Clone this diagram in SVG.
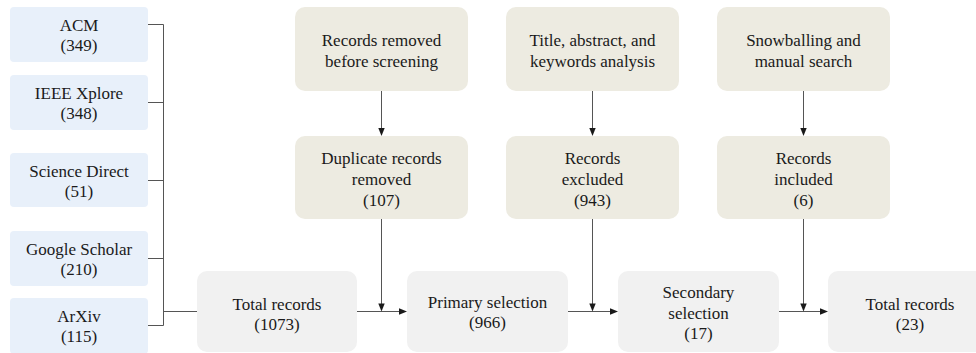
<svg xmlns="http://www.w3.org/2000/svg" width="976" height="353" viewBox="0 0 976 353">
  <style>
    .lbl { font-family: 'Liberation Serif', serif; font-size: 17px; fill: #1a1a1a; text-anchor: middle; }
    .src { fill: #e8f0fa; }
    .step { fill: #edebe1; }
    .flow { fill: #f1f1f1; }
    .line { stroke: #555; stroke-width: 1; fill: none; }
    .head { fill: #1a1a1a; }
  </style>
  <defs>
    <path id="down" d="M-3.2,-8 L3.2,-8 L0,0 Z"/>
    <path id="right" d="M-8,-3.2 L0,0 L-8,3.2 Z"/>
  </defs>
  <rect width="976" height="353" fill="#ffffff"/>
  <g id="acm">
    <rect class="src" x="10" y="7" width="138" height="55" rx="4"/>
    <text class="lbl" font-family="serif" x="79" y="31">ACM<tspan x="79" dy="20">(349)</tspan></text>
  </g>
  <g id="ieee">
    <rect class="src" x="10" y="75" width="138" height="55" rx="4"/>
    <text class="lbl" font-family="serif" x="79" y="99">IEEE Xplore<tspan x="79" dy="20">(348)</tspan></text>
  </g>
  <g id="sciencedirect">
    <rect class="src" x="10" y="153" width="138" height="54" rx="4"/>
    <text class="lbl" font-family="serif" x="79" y="177">Science Direct<tspan x="79" dy="20">(51)</tspan></text>
  </g>
  <g id="scholar">
    <rect class="src" x="10" y="231" width="138" height="55" rx="4"/>
    <text class="lbl" font-family="serif" x="79" y="255">Google Scholar<tspan x="79" dy="20">(210)</tspan></text>
  </g>
  <g id="arxiv">
    <rect class="src" x="10" y="298" width="138" height="56" rx="4"/>
    <text class="lbl" font-family="serif" x="79" y="322">ArXiv<tspan x="79" dy="20">(115)</tspan></text>
  </g>
  <g id="removed-before">
    <rect class="step" x="295" y="7" width="173" height="84" rx="10"/>
    <text class="lbl" font-family="serif" x="381.5" y="46">Records removed<tspan x="381.5" dy="21">before screening</tspan></text>
  </g>
  <g id="title-abstract">
    <rect class="step" x="506" y="7" width="173" height="84" rx="10"/>
    <text class="lbl" font-family="serif" x="592.5" y="46">Title, abstract, and<tspan x="592.5" dy="21">keywords analysis</tspan></text>
  </g>
  <g id="snowballing">
    <rect class="step" x="717" y="7" width="173" height="84" rx="10"/>
    <text class="lbl" font-family="serif" x="803.5" y="46">Snowballing and<tspan x="803.5" dy="21">manual search</tspan></text>
  </g>
  <g id="duplicates">
    <rect class="step" x="295" y="136" width="173" height="83" rx="10"/>
    <text class="lbl" font-family="serif" x="381.5" y="164">Duplicate records<tspan x="381.5" dy="21">removed</tspan><tspan x="381.5" dy="21">(107)</tspan></text>
  </g>
  <g id="excluded">
    <rect class="step" x="506" y="136" width="173" height="83" rx="10"/>
    <text class="lbl" font-family="serif" x="592.5" y="164">Records<tspan x="592.5" dy="21">excluded</tspan><tspan x="592.5" dy="21">(943)</tspan></text>
  </g>
  <g id="included">
    <rect class="step" x="717" y="136" width="173" height="83" rx="10"/>
    <text class="lbl" font-family="serif" x="803.5" y="164">Records<tspan x="803.5" dy="21">included</tspan><tspan x="803.5" dy="21">(6)</tspan></text>
  </g>
  <g id="total-initial">
    <rect class="flow" x="197" y="271" width="160" height="81" rx="10"/>
    <text class="lbl" font-family="serif" x="277" y="310">Total records<tspan x="277" dy="20">(1073)</tspan></text>
  </g>
  <g id="primary">
    <rect class="flow" x="407" y="271" width="161" height="81" rx="10"/>
    <text class="lbl" font-family="serif" x="487.5" y="308">Primary selection<tspan x="487.5" dy="20">(966)</tspan></text>
  </g>
  <g id="secondary">
    <rect class="flow" x="618" y="271" width="161" height="81" rx="10"/>
    <text class="lbl" font-family="serif" x="698.5" y="298">Secondary<tspan x="698.5" dy="20.5">selection</tspan><tspan x="698.5" dy="20.5">(17)</tspan></text>
  </g>
  <g id="total-final">
    <rect class="flow" x="828" y="271" width="164" height="81" rx="10"/>
    <text class="lbl" font-family="serif" x="910" y="310">Total records<tspan x="910" dy="20">(23)</tspan></text>
  </g>
  <g id="connectors">
    <path class="line" d="M148,24.5 H163.5 V325.5 H148 M148,102.5 H163.5 M148,180.5 H163.5 M148,258.5 H163.5 M163.5,311.5 H197"/>
    <path class="line" d="M381.5,91 V132 M592.5,91 V132 M803.5,91 V132 M381.5,219 V308 M592.5,219 V308 M803.5,219 V308 M357,311.5 H403 M568,311.5 H614 M779,311.5 H824"/>
    <use href="#down" class="head" x="381.5" y="136"/>
    <use href="#down" class="head" x="592.5" y="136"/>
    <use href="#down" class="head" x="803.5" y="136"/>
    <use href="#down" class="head" x="381.5" y="311.5"/>
    <use href="#down" class="head" x="592.5" y="311.5"/>
    <use href="#down" class="head" x="803.5" y="311.5"/>
    <use href="#right" class="head" x="407" y="311.5"/>
    <use href="#right" class="head" x="618" y="311.5"/>
    <use href="#right" class="head" x="828" y="311.5"/>
  </g>
</svg>
